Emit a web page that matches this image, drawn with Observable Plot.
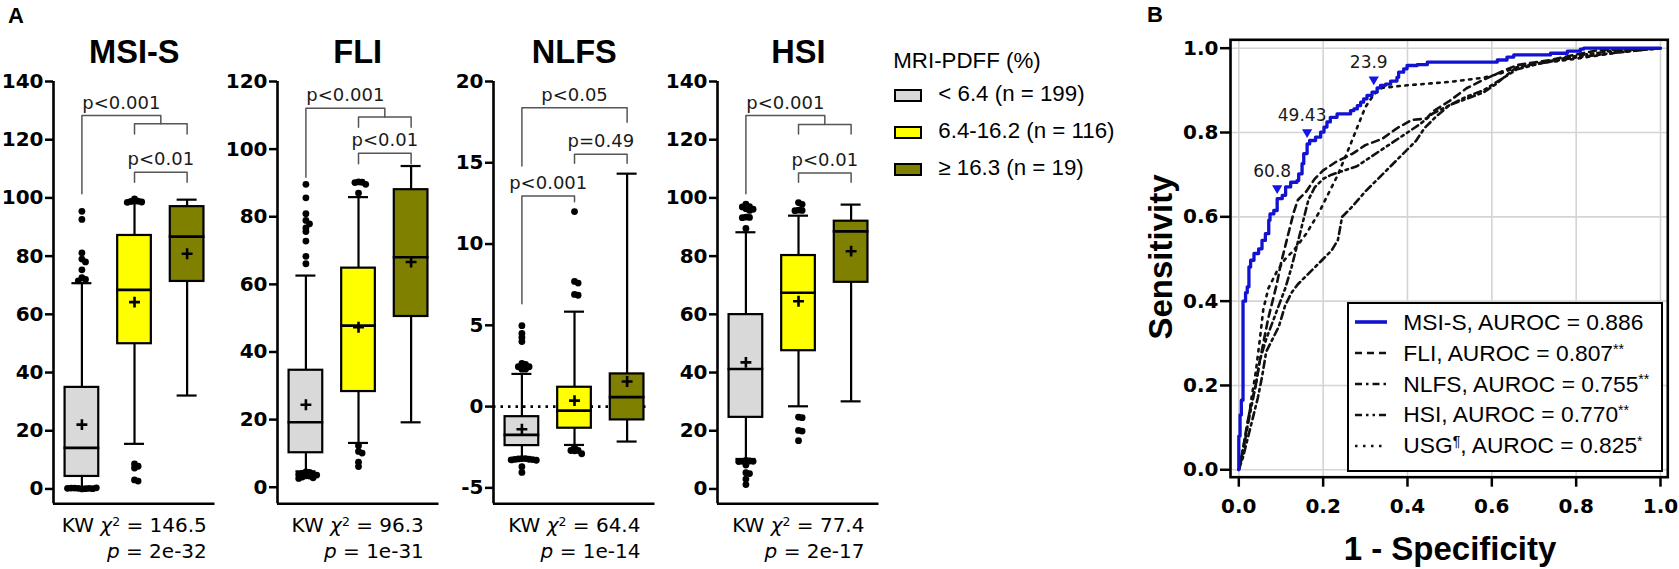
<!DOCTYPE html>
<html>
<head>
<meta charset="utf-8">
<script src="https://cdn.jsdelivr.net/npm/d3@7"></script>
<script src="https://cdn.jsdelivr.net/npm/@observablehq/plot@0.6"></script>
<style>
  html, body { margin: 0; padding: 0; background: #fff; }
  #fig { position: relative; width: 1679px; height: 569px; overflow: hidden; background: #fff; color: #000; }
  #fig > svg { position: absolute; top: 0; overflow: visible; }
  .t { position: absolute; white-space: nowrap; }
  .sup { position: relative; top: -0.5em; font-size: 0.62em; }
</style>
</head>
<body>
<div id="fig"></div>
<script>
// ---------------- DATA ----------------
const groups = ["< 6.4 (n = 199)", "6.4-16.2 (n = 116)", "\u2265 16.3 (n = 19)"];
const legendTitle = "MRI-PDFF (%)";
const scores = ["MSI-S", "FLI", "NLFS", "HSI"];

// per group: [lower whisker, Q1, median, Q3, upper whisker, mean]
const msisBox = [[0.5, 4.3, 14.1, 34.9, 70.7, 22.1], [15.5, 49.9, 68.4, 87.1, 98.2, 64.2], [32.1, 71.3, 86.7, 97.0, 99.4, 80.8]];
const fliBox  = [[4.7, 10.2, 19.2, 34.6, 62.6, 24.4], [13.1, 28.3, 47.8, 64.8, 85.8, 47.3], [19.2, 50.5, 68.0, 88.0, 95.0, 66.6]];
const nlfsBox = [[-3.24, -2.4, -1.74, -0.62, 2.01, -1.39], [-2.36, -1.33, -0.25, 1.19, 5.84, 0.37], [-2.15, -0.82, 0.58, 2.01, 14.33, 1.54]];
const hsiBox  = [[10.3, 24.6, 41.2, 59.9, 88.2, 43.5], [28.4, 47.5, 67.4, 80.2, 93.9, 64.5], [30.1, 71.0, 88.5, 92.0, 97.7, 81.7]];

// outliers per group
const msisOut = [
  [95.4, 92.6, 81.1, 79.0, 78.0, 75.3, 72.6, 72.0, 71.5, 0.0, 0.1, 0.2, 0.2, 0.3, 0.1, 0.3, 0.4, 0.2],
  [99.7, 98.9, 98.8, 98.6, 98.5, 8.6, 7.8, 7.2, 3.1, 2.7],
  []
];
const fliOut = [
  [89.6, 85.6, 80.9, 78.9, 77.9, 76.7, 75.6, 72.8, 68.3, 66.1, 4.5, 4.4, 4.1, 3.9, 3.8, 3.6, 3.4, 3.3, 3.0, 2.8, 2.6],
  [90.3, 90.2, 90.1, 89.6, 87.0, 12.3, 10.6, 10.1, 7.4, 6.1],
  []
];
const nlfsOut = [
  [4.98, 4.5, 4.25, 4.0, 2.65, 2.6, 2.45, 2.45, 2.3, 2.3, -3.2, -3.2, -3.22, -3.24, -3.25, -3.26, -3.28, -3.3, -3.7, -4.05],
  [12.0, 7.7, 7.6, 6.9, 6.85, -2.5, -2.7, -2.7, -2.72, -2.9],
  []
];
const hsiOut = [
  [97.9, 97.0, 96.9, 96.3, 96.1, 95.7, 93.4, 93.3, 93.2, 89.5, 9.8, 9.6, 9.5, 9.5, 9.4, 8.2, 5.6, 5.3, 3.4, 1.5],
  [98.4, 97.8, 95.8, 95.7, 95.6, 24.7, 24.5, 20.1, 19.9, 16.6],
  []
];

// brackets: [from group, to group, bar level, left end, right end, label]
const msisBr = [[0, 1.5, 128.3, 101.4, 125.5, "p<0.001"], [1, 2, 125.5, 122, 122, ""], [1, 2, 108.8, 105.4, 105.4, "p<0.01"]];
const fliBr  = [[0, 1.5, 112.1, 91.7, 109.5, "p<0.001"], [1, 2, 109.5, 106.5, 106.5, ""], [1, 2, 98.8, 95.7, 95.7, "p<0.01"]];
const nlfsBr = [[0, 2, 18.38, 14.8, 17.5, "p<0.05"], [1, 2, 15.52, 14.97, 14.97, "p=0.49"], [0, 1, 12.96, 6.32, 12.6, "p<0.001"]];
const hsiBr  = [[0, 1.5, 128.3, 101.4, 125.2, "p<0.001"], [1, 2, 125.2, 122, 122, ""], [1, 2, 108.6, 105.4, 105.4, "p<0.01"]];

const msisTicks = [0, 20, 40, 60, 80, 100, 120, 140];
const fliTicks  = [0, 20, 40, 60, 80, 100, 120];
const nlfsTicks = [-5, 0, 5, 10, 15, 20];
const hsiTicks  = [0, 20, 40, 60, 80, 100, 120, 140];
const axisFloor = [-5.1, -4.9, -5.98, -5.1];

const kwChi = ["146.5", "96.3", "64.4", "77.4"];
const kwP = ["2e-32", "1e-31", "1e-14", "2e-17"];

// ROC (1 - specificity, sensitivity)
const msisRoc = [[0,0],[0,0.08],[0.003,0.13],[0.006,0.165],[0.01,0.165],[0.01,0.40],[0.016,0.42],[0.02,0.434],[0.024,0.481],[0.028,0.497],[0.036,0.513],[0.047,0.524],[0.055,0.544],[0.063,0.56],[0.071,0.592],[0.074,0.607],[0.083,0.615],[0.091,0.643],[0.103,0.651],[0.111,0.671],[0.123,0.682],[0.138,0.686],[0.142,0.702],[0.15,0.726],[0.154,0.75],[0.162,0.773],[0.168,0.781],[0.182,0.789],[0.194,0.801],[0.202,0.813],[0.209,0.825],[0.217,0.836],[0.233,0.844],[0.257,0.844],[0.265,0.852],[0.273,0.856],[0.281,0.864],[0.289,0.872],[0.296,0.88],[0.304,0.888],[0.316,0.896],[0.328,0.906],[0.336,0.912],[0.348,0.915],[0.36,0.922],[0.375,0.931],[0.379,0.943],[0.391,0.951],[0.399,0.959],[0.423,0.961],[0.447,0.967],[0.605,0.967],[0.613,0.972],[0.636,0.979],[0.652,0.984],[0.70,0.984],[0.739,0.988],[0.779,0.993],[0.81,0.998],[0.818,1],[1,1]];
const fliRoc = [[0,0],[0.01,0.05],[0.02,0.11],[0.03,0.16],[0.04,0.2],[0.05,0.26],[0.06,0.31],[0.07,0.36],[0.08,0.4],[0.09,0.44],[0.1,0.49],[0.11,0.53],[0.12,0.57],[0.13,0.61],[0.14,0.64],[0.16,0.66],[0.18,0.69],[0.2,0.71],[0.23,0.73],[0.27,0.75],[0.3,0.77],[0.34,0.785],[0.375,0.81],[0.41,0.83],[0.445,0.833],[0.46,0.85],[0.5,0.875],[0.54,0.905],[0.58,0.925],[0.62,0.943],[0.66,0.96],[0.74,0.972],[0.8,0.985],[0.85,0.995],[1,1]];
const nlfsRoc = [[0,0],[0.01,0.03],[0.02,0.07],[0.03,0.11],[0.045,0.17],[0.055,0.22],[0.065,0.28],[0.08,0.31],[0.095,0.34],[0.11,0.39],[0.125,0.42],[0.14,0.44],[0.16,0.46],[0.18,0.48],[0.2,0.5],[0.22,0.52],[0.235,0.545],[0.245,0.6],[0.265,0.62],[0.3,0.66],[0.33,0.69],[0.36,0.72],[0.39,0.75],[0.42,0.78],[0.44,0.81],[0.47,0.84],[0.5,0.865],[0.54,0.88],[0.58,0.895],[0.61,0.915],[0.64,0.94],[0.66,0.955],[0.74,0.97],[0.82,0.985],[0.9,0.995],[1,1]];
const hsiRoc = [[0,0],[0.01,0.05],[0.02,0.1],[0.03,0.15],[0.04,0.2],[0.05,0.26],[0.065,0.31],[0.08,0.35],[0.095,0.39],[0.11,0.43],[0.125,0.48],[0.14,0.54],[0.155,0.6],[0.165,0.64],[0.18,0.67],[0.2,0.69],[0.22,0.70],[0.25,0.71],[0.28,0.72],[0.31,0.74],[0.34,0.76],[0.37,0.78],[0.4,0.80],[0.43,0.82],[0.46,0.845],[0.5,0.865],[0.54,0.885],[0.58,0.9],[0.62,0.925],[0.66,0.95],[0.72,0.965],[0.8,0.978],[0.9,0.99],[1,1]];
const usgRoc = [[0,0],[0.01,0.04],[0.02,0.1],[0.03,0.17],[0.04,0.23],[0.05,0.31],[0.058,0.38],[0.07,0.43],[0.09,0.47],[0.11,0.5],[0.13,0.52],[0.16,0.56],[0.19,0.61],[0.21,0.65],[0.235,0.70],[0.26,0.76],[0.28,0.81],[0.30,0.86],[0.32,0.89],[0.34,0.906],[0.4,0.912],[0.5,0.92],[0.58,0.93],[0.62,0.94],[0.66,0.955],[0.72,0.965],[0.8,0.975],[0.9,0.99],[1,1]];

// MSI-S cut-offs shown on the curve
const cutLabels = ["60.8", "49.43", "23.9"];
const cutX = [0.091, 0.162, 0.32];
const cutY = [0.668, 0.801, 0.926];

const rocNames = ["MSI-S", "FLI", "NLFS", "HSI", "USG"];
const rocAuroc = ["0.886", "0.807", "0.755", "0.770", "0.825"];
const rocSig = ["", "**", "**", "**", "*"];
const rocTicks = [0, 0.2, 0.4, 0.6, 0.8, 1.0];

// ---------------- STYLE / LAYOUT ----------------
const groupFill = ["#d9d9d9", "#ffff00", "#808000"];
const rocStroke = ["#1212d2", "#111", "#111", "#111", "#111"];
const rocWidth = [3.3, 2.6, 2.6, 2.6, 2.6];
const rocDash = [null, "7,5", "7,4,2.5,4", "7,4,2.5,4,2.5,4", "2.5,5.5"];
const tickFont = {fontFamily: "DejaVu Sans", fontWeight: "bold", fontSize: 20};

const fig = document.getElementById("fig");
function esc(s) { return String(s).replace(/&/g, "&amp;").replace(/</g, "&lt;").replace(/>/g, "&gt;"); }
function addText(html, x, base, size, o = {}) {
  const d = document.createElement("div");
  d.className = "t";
  d.innerHTML = html;
  const tr = o.anchor === "middle" ? "translateX(-50%)" : o.anchor === "end" ? "translateX(-100%)" : "none";
  d.style.cssText = `left:${x}px;top:${base - 0.846 * size}px;font-size:${size}px;line-height:${size}px;` +
    `font-family:"${o.family || "Liberation Sans"}";font-weight:${o.weight || "normal"};transform:${tr};color:${o.color || "#000"};`;
  fig.appendChild(d);
  return d;
}

// ---------------- PANEL A : box plots ----------------
const boxStats = [msisBox, fliBox, nlfsBox, hsiBox];
const boxOut = [msisOut, fliOut, nlfsOut, hsiOut];
const boxBr = [msisBr, fliBr, nlfsBr, hsiBr];
const boxTicks = [msisTicks, fliTicks, nlfsTicks, hsiTicks];
const axisX = [53.3, 276.7, 493.3, 717.3];
const xDom = [-0.54, 2.53];
const ML = 53, PW = 161.5, W = 216, MT = 81, H = 510, AX = 503.3;
const pxX = PW / (xDom[1] - xDom[0]);

function swarm(vals, center, pxY) {
  const step = 3.6, placed = [];
  return vals.map(v => {
    const py = -v * pxY;
    let off = 0;
    for (let k = 0; k < 80; k++) {
      off = k === 0 ? 0 : (k % 2 ? 1 : -1) * Math.ceil(k / 2) * step;
      if (placed.every(p => Math.hypot(p[0] - off, p[1] - py) >= step * 0.98)) break;
    }
    placed.push([off, py]);
    return {x: center + off / pxX, y: v};
  });
}

function boxPanel(k) {
  const ticks = boxTicks[k];
  const yDom = [axisFloor[k], ticks[ticks.length - 1]];
  const pxY = (AX - MT) / (yDom[1] - yDom[0]);
  const bw = 0.32, cw = 0.19;
  const boxes = boxStats[k].map((s, i) => ({i, lo: s[0], q1: s[1], med: s[2], q3: s[3], hi: s[4], mean: s[5], fill: groupFill[i]}));
  const dots = boxOut[k].flatMap((v, i) => swarm(v, i, pxY));
  const brPath = boxBr[k].flatMap((b, j) => [[b[0], b[3]], [b[0], b[2]], [b[1], b[2]], [b[1], b[4]]].map(([x, y]) => ({j, x, y})));
  const brText = boxBr[k].filter(b => b[5]).map(b => ({x: (b[0] + b[1]) / 2, y: b[2], label: b[5]}));
  const marks = [];
  if (ticks[0] < 0) marks.push(Plot.ruleY([0], {x1: xDom[0], x2: xDom[1] - 0.1, stroke: "#000", strokeWidth: 2.6, strokeDasharray: "2.5,5"}));
  marks.push(
    Plot.ruleX(boxes, {x: "i", y1: "lo", y2: "q1", stroke: "#000", strokeWidth: 2.2}),
    Plot.ruleX(boxes, {x: "i", y1: "q3", y2: "hi", stroke: "#000", strokeWidth: 2.2}),
    Plot.ruleY(boxes, {y: "lo", x1: d => d.i - cw, x2: d => d.i + cw, stroke: "#000", strokeWidth: 2.2}),
    Plot.ruleY(boxes, {y: "hi", x1: d => d.i - cw, x2: d => d.i + cw, stroke: "#000", strokeWidth: 2.2}),
    Plot.rect(boxes, {x1: d => d.i - bw, x2: d => d.i + bw, y1: "q1", y2: "q3", fill: "fill", stroke: "#000", strokeWidth: 2.2}),
    Plot.ruleY(boxes, {y: "med", x1: d => d.i - bw - 0.02, x2: d => d.i + bw + 0.02, stroke: "#000", strokeWidth: 2.6}),
    Plot.dot(boxes, {x: "i", y: "mean", symbol: "plus", r: 3.6, stroke: "#000", strokeWidth: 2.6}),
    Plot.dot(dots, {x: "x", y: "y", r: 3.4, fill: "#000", stroke: "none"}),
    Plot.line(brPath, {x: "x", y: "y", z: "j", stroke: "#555", strokeWidth: 1.5}),
    Plot.text(brText, {x: "x", y: "y", text: "label", dy: -7, lineAnchor: "bottom", fontFamily: "DejaVu Sans", fontWeight: "normal", fontSize: 18, fill: "#1a1a1a"}),
    Plot.ruleX([xDom[0]], {y1: yDom[0], y2: yDom[1], stroke: "#000", strokeWidth: 2.6}),
    Plot.ruleY([yDom[0]], {x1: xDom[0], x2: xDom[1], stroke: "#000", strokeWidth: 2.6}),
    Plot.axisY(ticks, {tickSize: 8, tickPadding: 2, tickFormat: d => String(d), strokeWidth: 2.5, label: null, ...tickFont})
  );
  const svg = Plot.plot({
    width: W, height: H,
    marginLeft: ML, marginRight: W - ML - PW, marginTop: MT, marginBottom: H - AX,
    x: {domain: xDom, axis: null, label: null},
    y: {domain: yDom, label: null},
    color: {type: "identity"},
    style: {background: "transparent", overflow: "visible", fontFamily: "DejaVu Sans", fontSize: "20px"},
    marks
  });
  svg.style.left = (axisX[k] - ML) + "px";
  fig.appendChild(svg);

  const cx = i => axisX[k] + (i - xDom[0]) * pxX;
  addText(esc(scores[k]), cx(1), 63.3, 32.6, {weight: "bold", anchor: "middle"});
  const l1 = addText(`KW <i>\u03C7</i><span class="sup">2</span> = ${kwChi[k]}`, cx(1), 532.3, 20, {family: "DejaVu Sans", anchor: "middle"});
  const r = l1.getBoundingClientRect().right - fig.getBoundingClientRect().left;
  addText(`<i>p</i> = ${kwP[k]}`, r, 558.3, 20, {family: "DejaVu Sans", anchor: "end"});
}
scores.forEach((s, k) => boxPanel(k));

addText("A", 8, 23.2, 22, {weight: "bold"});

// legend of panel A
addText(esc(legendTitle), 893.3, 69.3, 22.3);
groups.forEach((g, i) => {
  const base = 101.7 + 36.9 * i;
  const sw = document.createElement("div");
  sw.style.cssText = `position:absolute;left:894.3px;top:${base - 12.6}px;width:28px;height:12.8px;box-sizing:border-box;border:2px solid #000;border-bottom-width:2.6px;background:${groupFill[i]};`;
  fig.appendChild(sw);
  addText(esc(g), 938.3, base, 22.3);
});

// ---------------- PANEL B : ROC ----------------
const triDown = {draw(ctx, size) {
  const y = Math.sqrt(size / (3 * Math.sqrt(3)));
  ctx.moveTo(0, 2 * y); ctx.lineTo(-Math.sqrt(3) * y, -y); ctx.lineTo(Math.sqrt(3) * y, -y); ctx.closePath();
}};
const rocData = [msisRoc, fliRoc, nlfsRoc, hsiRoc, usgRoc];
const cuts = cutLabels.map((l, i) => ({label: l, x: cutX[i], y: cutY[i]}));
const rocLines = [4, 3, 2, 1].map(i => Plot.line(rocData[i], {x: p => p[0], y: p => p[1], stroke: rocStroke[i], strokeWidth: rocWidth[i], strokeDasharray: rocDash[i]}));
const rocSvg = Plot.plot({
  width: 549, height: 569,
  marginLeft: 100, marginRight: 11.7, marginTop: 39.3, marginBottom: 92.3,
  x: {domain: [-0.0197, 1.0173], label: null},
  y: {domain: [-0.0176, 1.0199], label: null},
  style: {background: "transparent", overflow: "visible", fontFamily: "DejaVu Sans", fontSize: "20px"},
  marks: [
    Plot.gridX(rocTicks, {stroke: "#d4d4d4", strokeOpacity: 1, strokeWidth: 1.6}),
    Plot.gridY(rocTicks, {stroke: "#d4d4d4", strokeOpacity: 1, strokeWidth: 1.6}),
    ...rocLines,
    Plot.line(msisRoc, {x: p => p[0], y: p => p[1], curve: "step-after", stroke: rocStroke[0], strokeWidth: rocWidth[0]}),
    Plot.dot(cuts, {x: "x", y: "y", symbol: triDown, r: 3.8, fill: "#1414e6", stroke: "none"}),
    Plot.text(cuts, {x: "x", y: "y", text: "label", dy: -11, dx: -5, lineAnchor: "bottom", fontFamily: "DejaVu Sans", fontWeight: "normal", fontSize: 17, fill: "#1a1a1a"}),
    Plot.frame({stroke: "#000", strokeWidth: 2.6}),
    Plot.axisX(rocTicks, {tickSize: 10, tickPadding: 12, tickFormat: d3.format(".1f"), strokeWidth: 2.5, label: null, ...tickFont}),
    Plot.axisY(rocTicks, {tickSize: 10, tickPadding: 2, tickFormat: d3.format(".1f"), strokeWidth: 2.5, label: null, ...tickFont})
  ]
});
rocSvg.style.left = "1130px";
fig.appendChild(rocSvg);

addText("B", 1147, 22.2, 22, {weight: "bold"});
addText("1 - Specificity", 1450, 560, 33, {weight: "bold", anchor: "middle"});
const yl = document.createElement("div");
yl.className = "t";
yl.textContent = "Sensitivity";
yl.style.cssText = `left:1159.6px;top:257px;font-family:"Liberation Sans";font-weight:bold;font-size:33px;line-height:33px;transform:translate(-50%,-50%) rotate(-90deg);`;
fig.appendChild(yl);

// legend of panel B
const lb = document.createElement("div");
lb.style.cssText = "position:absolute;left:1346.7px;top:301.7px;width:316.6px;height:170px;box-sizing:border-box;border:2px solid #000;background:#fff;";
fig.appendChild(lb);
rocNames.forEach((n, i) => {
  const cy = 322.3 + 30.8 * i;
  const ns = "http://www.w3.org/2000/svg";
  const s = document.createElementNS(ns, "svg");
  s.setAttribute("width", 34); s.setAttribute("height", 8);
  s.style.cssText = `position:absolute;left:1355px;top:${cy - 4}px;overflow:visible;`;
  const ln = document.createElementNS(ns, "line");
  ln.setAttribute("x1", 0); ln.setAttribute("x2", 32); ln.setAttribute("y1", 4); ln.setAttribute("y2", 4);
  ln.setAttribute("stroke", rocStroke[i]); ln.setAttribute("stroke-width", i === 0 ? 3.6 : 2.6);
  if (rocDash[i]) ln.setAttribute("stroke-dasharray", rocDash[i]);
  s.appendChild(ln);
  fig.appendChild(s);
  const name = n === "USG" ? `USG<span class="sup">\u00B6</span>` : esc(n);
  const sig = rocSig[i] ? `<span class="sup">${rocSig[i]}</span>` : "";
  addText(`${name}, AUROC = ${rocAuroc[i]}${sig}`, 1403.3, cy + 7.9, 22.8);
});
</script>
</body>
</html>
